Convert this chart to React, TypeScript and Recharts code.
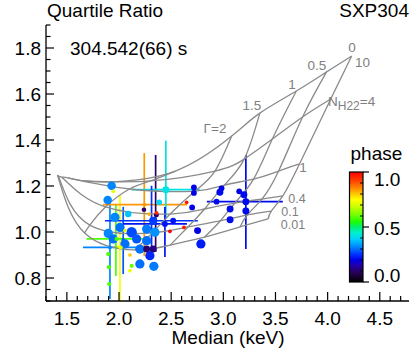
import React from 'react';
import { ComposedChart, Scatter, XAxis, YAxis, ErrorBar } from 'recharts';

const FONT = '"Liberation Sans", Arial, Helvetica, sans-serif';

// ---- model grid (rows: N_H22 levels, columns: photon index levels)
const nhLevels = ['10', '4', '1', '0.4', '0.1', '0.01'];
const gammaLevels = ['0', '0.5', '1', '1.5', '2', '3', '4'];
const gridMedian = [
  [4.23, 3.99, 3.7, 3.35, 3.08, 2.54, 1.87],
  [4.03, 3.76, 3.47, 3.2, 2.92, 2.3, 1.67],
  [3.73, 3.53, 3.29, 3.01, 2.73, 2.1, 1.51],
  [3.57, 3.37, 3.11, 2.82, 2.49, 1.87, 1.45],
  [3.46, 3.23, 2.97, 2.66, 2.32, 1.72, 1.42],
  [3.43, 3.16, 2.82, 2.49, 2.15, 1.67, 1.41],
];
const gridRatio = [
  [1.765, 1.696, 1.613, 1.517, 1.417, 1.265, 1.217],
  [1.578, 1.5, 1.404, 1.317, 1.265, 1.222, 1.222],
  [1.296, 1.265, 1.23, 1.204, 1.178, 1.187, 1.235],
  [1.157, 1.143, 1.126, 1.1, 1.078, 1.109, 1.239],
  [1.091, 1.074, 1.048, 1.022, 0.996, 1.03, 1.243],
  [1.057, 1.022, 0.978, 0.943, 0.922, 0.996, 1.248],
];

// ---- observed points (no error bars)
const ptMedian = [1.929, 1.891, 1.961, 2.088, 1.897, 1.945, 2.121, 2.057, 2.169, 2.2, 2.2, 2.334, 2.265, 2.296, 2.328, 2.265, 2.328, 2.344, 2.385, 2.239, 2.36, 2.44, 2.519, 2.753, 2.785, 2.701, 2.718, 2.718, 2.935, 2.983, 2.967, 3.152, 3.197, 3.065, 3.216, 3.065, 2.265, 2.009,
  1.945, 2.648, 2.622, 2.488, 2.289, 2.36, 2.105, 2.105, 2.121, 1.897, 1.903, 1.906, 2.057, 2.018, 1.977];
const ptRatio = [1.201, 1.139, 1.064, 1.078, 0.994, 0.97, 0.999, 0.948, 0.97, 0.926, 0.861, 0.851, 0.926, 0.897, 0.926, 1.013, 1.049, 0.999, 1.129, 1.097, 1.074, 1.035, 1.049, 1.006, 0.948, 1.107, 1.194, 1.17, 1.132, 1.19, 1.173, 1.177, 1.162, 1.1, 1.091, 1.053, 0.962, 1.02,
  1.177, 1.129, 1.02, 1.003, 1.078, 1.083, 0.9, 0.832, 0.853, 0.904, 0.847, 0.774, 1.006, 0.933, 0.97];
const ptPhase = [0.32, 0.32, 0.32, 0.38, 0.32, 0.3, 0.27, 0.3, 0.28, 0.3, 0.3, 0.31, 0.1, 0.24, 0.12, 0.31, 0.26, 0.33, 0.4, 0.1, 0.1, 0.22, 0.22, 0.2, 0.23, 0.2, 0.2, 0.2, 0.21, 0.2, 0.21, 0.2, 0.21, 0.21, 0.21, 0.21, 0.3, 0.3,
  0.72, 0.97, 0.97, 1.0, 0.82, 0.95, 0.8, 0.73, 0.6, 0.58, 0.58, 0.58, 0.72, 0.72, 0.58];
const ptCounts = [134, 134, 156, 77, 156, 156, 198, 156, 156, 156, 156, 156, 88, 156, 88, 156, 120, 156, 61, 39, 39, 61, 61, 88, 156, 61, 61, 61, 61, 61, 88, 61, 88, 88, 88, 88, 156, 156,
  25, 25, 25, 25, 25, 25, 25, 25, 32, 32, 32, 32, 25, 25, 32];

// ---- observed points with error bars
const ebMedian = [1.913, 2.009, 1.97, 2.04, 2.242, 2.351, 2.449, 2.44, 3.216, 2.312];
const ebMedLo = [1.654, 1.96, 1.69, 2.04, 1.846, 2.351, 2.121, 2.038, 2.842, 1.865];
const ebMedHi = [2.229, 2.06, 2.232, 2.04, 2.651, 2.351, 2.775, 2.651, 3.57, 2.756];
const ebRatio = [0.933, 0.935, 0.97, 0.965, 1.119, 1.074, 1.184, 1.035, 1.132, 1.049];
const ebRatLo = [0.709, 0.7, 0.809, 0.817, 0.896, 0.913, 1.057, 0.891, 0.926, 0.926];
const ebRatHi = [1.13, 1.161, 1.117, 1.109, 1.343, 1.335, 1.397, 1.109, 1.335, 1.201];
const ebPhase = [0.32, 0.74, 0.58, 0.28, 0.84, 0.1, 0.42, 0.22, 0.21, 0.25];
const ebCounts = [25, 25, 25, 25, 25, 25, 88, 39, 88, 39];

// ---- axes
const xMajor = [1.5, 2.0, 2.5, 3.0, 3.5, 4.0, 4.5];
const yMajor = [0.8, 1.0, 1.2, 1.4, 1.6, 1.8];
const phaseTicks = [0.0, 0.5, 1.0];

const xTicks: number[] = [];
for (let i = 13; i <= 47; i++) xTicks.push(i / 10);
const yTicks: number[] = [];
for (let i = 14; i <= 38; i++) yTicks.push(i / 20);

const cmapStops: [number, string][] = [
  [0, '#000000'], [0.05, '#1a0030'], [0.1, '#2a006a'], [0.15, '#2000a8'], [0.2, '#0000e8'],
  [0.25, '#0030ff'], [0.3, '#0070ff'], [0.35, '#00a8ff'], [0.4, '#00d8f8'], [0.45, '#00f0c8'],
  [0.5, '#00f070'], [0.55, '#20ff00'], [0.62, '#80ff00'], [0.7, '#d8ff00'], [0.75, '#ffff00'],
  [0.8, '#ffc800'], [0.85, '#ff8c00'], [0.92, '#ff4000'], [1, '#ff0000'],
];
function hex(c: string) {
  return [1, 3, 5].map((i) => parseInt(c.slice(i, i + 2), 16));
}
function cmap(v: number) {
  const t = Math.max(0, Math.min(1, v));
  for (let i = 1; i < cmapStops.length; i++) {
    const [t1, c1] = cmapStops[i];
    const [t0, c0] = cmapStops[i - 1];
    if (t <= t1) {
      const f = (t - t0) / (t1 - t0);
      const a = hex(c0);
      const b = hex(c1);
      const r = a.map((v0, k) => Math.round(v0 + (b[k] - v0) * f));
      return `rgb(${r[0]},${r[1]},${r[2]})`;
    }
  }
  return cmapStops[cmapStops.length - 1][1];
}
const radius = (c: number) => 0.37 * Math.sqrt(c);

const nhLines = nhLevels.map((_, i) => gammaLevels.map((__, j) => ({ x: gridMedian[i][j], y: gridRatio[i][j] })));
const gammaLines = gammaLevels.map((_, j) => nhLevels.map((__, i) => ({ x: gridMedian[i][j], y: gridRatio[i][j] })));

const points = ptMedian.map((x, i) => ({ x, y: ptRatio[i], r: radius(ptCounts[i]), c: cmap(ptPhase[i]) }));
const ebPoints = ebMedian.map((x, i) => ({
  x,
  y: ebRatio[i],
  ex: [x - ebMedLo[i], ebMedHi[i] - x],
  ey: [ebRatio[i] - ebRatLo[i], ebRatHi[i] - ebRatio[i]],
  r: radius(ebCounts[i]),
  c: cmap(ebPhase[i]),
}));

const isMajor = (v: number, list: number[]) => list.some((m) => Math.abs(m - v) < 1e-6);

const BottomTick = (p: any) => {
  const v = p.payload.value;
  const m = isMajor(v, xMajor);
  return (
    <g>
      <line x1={p.x} x2={p.x} y1={p.y} y2={p.y - (m ? 9 : 5)} stroke="#000" strokeWidth={1.2} />
      {m ? (
        <text x={p.x} y={p.y + 24} textAnchor="middle" fontSize={19} fontFamily={FONT} fill="#000">
          {v.toFixed(1)}
        </text>
      ) : null}
    </g>
  );
};
const TopTick = (p: any) => {
  const m = isMajor(p.payload.value, xMajor);
  return <line x1={p.x} x2={p.x} y1={p.y} y2={p.y + (m ? 9 : 5)} stroke="#000" strokeWidth={1.2} />;
};
const LeftTick = (p: any) => {
  const v = p.payload.value;
  const m = isMajor(v, yMajor);
  return (
    <g>
      <line x1={p.x} x2={p.x + (m ? 8 : 4.5)} y1={p.y} y2={p.y} stroke="#000" strokeWidth={1.2} />
      {m ? (
        <text x={p.x - 5} y={p.y + 7} textAnchor="end" fontSize={19} fontFamily={FONT} fill="#000">
          {v.toFixed(1)}
        </text>
      ) : null}
    </g>
  );
};
const RightTick = (p: any) => {
  const m = isMajor(p.payload.value, yMajor);
  return <line x1={p.x} x2={p.x - (m ? 8 : 4.5)} y1={p.y} y2={p.y} stroke="#000" strokeWidth={1.2} />;
};

const NoShape = () => <g />;
const Dot = (p: any) => <circle cx={p.cx} cy={p.cy} r={p.payload.r} fill={p.payload.c} />;

const gray = '#8a8a8a';

export default function App() {
  const cbTop = 172;
  const cbBot = 282;
  const cbY = (f: number) => cbBot - f * (cbBot - cbTop);
  const minor: number[] = [];
  for (let i = 1; i < 10; i++) if (i !== 5) minor.push(i / 10);
  return (
    <div style={{ position: 'absolute', left: 0, top: 0, width: 414, height: 351 }}>
      <ComposedChart width={414} height={351} margin={{ top: 25, right: 5, bottom: 0, left: 0 }}>
        <XAxis
          xAxisId={0}
          type="number"
          dataKey="x"
          domain={[1.3, 4.78]}
          ticks={xTicks}
          interval={0}
          allowDataOverflow
          height={50}
          tickSize={0}
          tickMargin={0}
          tickLine={false}
          tick={BottomTick}
          axisLine={{ stroke: '#000', strokeWidth: 1.3 }}
        />
        <XAxis
          xAxisId="top"
          orientation="top"
          type="number"
          dataKey="x"
          domain={[1.3, 4.78]}
          ticks={xTicks}
          interval={0}
          allowDataOverflow
          height={0}
          tickSize={0}
          tickMargin={0}
          tickLine={false}
          tick={TopTick}
          axisLine={{ stroke: '#000', strokeWidth: 1.3 }}
        />
        <YAxis
          yAxisId={0}
          type="number"
          dataKey="y"
          domain={[0.7, 1.9]}
          ticks={yTicks}
          interval={0}
          allowDataOverflow
          width={46}
          tickSize={0}
          tickMargin={0}
          tickLine={false}
          tick={LeftTick}
          axisLine={{ stroke: '#000', strokeWidth: 1.3 }}
        />
        <YAxis
          yAxisId="right"
          orientation="right"
          type="number"
          dataKey="y"
          domain={[0.7, 1.9]}
          ticks={yTicks}
          interval={0}
          allowDataOverflow
          width={0}
          tickSize={0}
          tickMargin={0}
          tickLine={false}
          tick={RightTick}
          axisLine={{ stroke: '#000', strokeWidth: 1.3 }}
        />
        {nhLines.map((pts, i) => (
          <Scatter
            key={'nh' + i}
            data={pts}
            line={{ stroke: gray, strokeWidth: 1.3 }}
            lineJointType="natural"
            shape={NoShape}
            isAnimationActive={false}
          />
        ))}
        {gammaLines.map((pts, i) => (
          <Scatter
            key={'g' + i}
            data={pts}
            line={{ stroke: gray, strokeWidth: 1.3 }}
            lineJointType="natural"
            shape={NoShape}
            isAnimationActive={false}
          />
        ))}
        {ebPoints.map((d, i) => (
          <Scatter key={'eb' + i} data={[d]} shape={Dot} isAnimationActive={false}>
            <ErrorBar dataKey="ex" direction="x" width={0} stroke={d.c} strokeWidth={1.7} />
            <ErrorBar dataKey="ey" direction="y" width={0} stroke={d.c} strokeWidth={1.7} />
          </Scatter>
        ))}
        <Scatter data={points} shape={Dot} isAnimationActive={false} />
      </ComposedChart>
      <svg
        width={414}
        height={351}
        style={{ position: 'absolute', left: 0, top: 0, pointerEvents: 'none' }}
        fontFamily={FONT}
      >
        <defs>
          <linearGradient id="cbar" x1="0" y1="1" x2="0" y2="0">
            {cmapStops.map(([t, c]) => (
              <stop key={t} offset={t} stopColor={c} />
            ))}
          </linearGradient>
        </defs>
        <text x={47} y={17} fontSize={19} fill="#000">Quartile Ratio</text>
        <text x={409} y={17} fontSize={19} fill="#000" textAnchor="end">SXP304</text>
        <text x={70} y={55} fontSize={19} fill="#000">304.542(66) s</text>
        <text x={228} y={344} fontSize={19} fill="#000" textAnchor="middle">Median (keV)</text>
        <g fill="#808080" fontSize={13.5}>
          <text x={352} y={52} textAnchor="middle">0</text>
          <text x={355} y={67}>10</text>
          <text x={317} y={70} textAnchor="middle">0.5</text>
          <text x={292} y={88.5} textAnchor="middle">1</text>
          <text x={252} y={110} textAnchor="middle">1.5</text>
          <text x={215} y={133} textAnchor="middle">Γ=2</text>
          <text x={328} y={106}>
            N<tspan fontSize={12} dy={4}>H22</tspan>
            <tspan dy={-4}>=4</tspan>
          </text>
          <text x={303} y={172} textAnchor="middle">1</text>
        </g>
        <g fill="#808080" fontSize={12.5}>
          <text x={297} y={203} textAnchor="middle">0.4</text>
          <text x={290} y={216} textAnchor="middle">0.1</text>
          <text x={293} y={229} textAnchor="middle">0.01</text>
        </g>
        <text x={350.5} y={160} fontSize={19} fill="#000">phase</text>
        <rect x={349.5} y={cbTop} width={13.5} height={cbBot - cbTop} fill="url(#cbar)" stroke="#000" strokeWidth={1.2} />
        {phaseTicks.map((t) => (
          <line key={t} x1={363} x2={369} y1={cbY(t)} y2={cbY(t)} stroke="#000" strokeWidth={1.2} />
        ))}
        {minor.map((t) => (
          <line key={t} x1={360} x2={363} y1={cbY(t)} y2={cbY(t)} stroke="#000" strokeWidth={1} />
        ))}
        <text x={374} y={186} fontSize={19} fill="#000">1.0</text>
        <text x={374} y={235} fontSize={19} fill="#000">0.5</text>
        <text x={374} y={282} fontSize={19} fill="#000">0.0</text>
      </svg>
    </div>
  );
}
